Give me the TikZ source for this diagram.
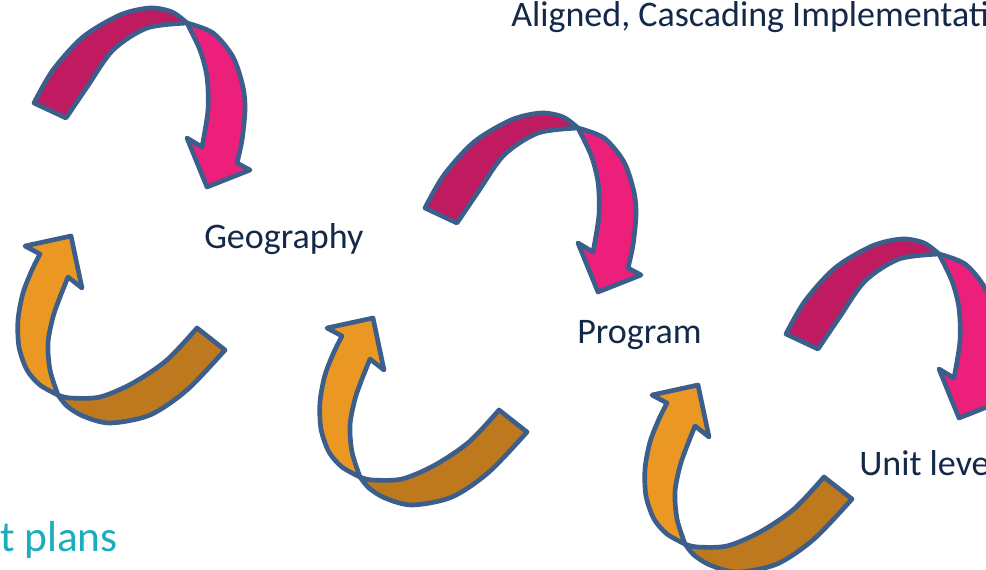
\documentclass[tikz,border=0pt]{standalone}
\usepackage{fontspec}
\setmainfont{Carlito}
\definecolor{pinkdark}{HTML}{C01A60}
\definecolor{pinklight}{HTML}{EC1F7B}
\definecolor{orangelight}{HTML}{EB9723}
\definecolor{orangedark}{HTML}{BE791E}
\definecolor{edgeblue}{HTML}{3C5E8B}
\definecolor{textnavy}{HTML}{14294A}
\definecolor{teal}{HTML}{1AADBE}
\tikzset{
  ribbon/.style={draw=edgeblue, line width=3.5pt, line join=round},
  label/.style={font=\fontsize{27}{32}\selectfont, text=textnavy, inner sep=0pt},
  pinkarrow/.pic={
    \filldraw[ribbon, fill=pinkdark]
      plot[smooth] coordinates {(34,103)(53,70)(83,37)(120,15)(150,8)(172,12)(187,23)}
      -- plot[smooth] coordinates {(187,23)(147,28)(113,50)(87,87)(66,118)}
      -- cycle;
    \filldraw[ribbon, fill=pinklight]
      plot[smooth] coordinates {(187,23)(213,33)(233,57)(243,87)(245,110)(242,140)(237,163)}
      -- (250,170) -- (207,187) -- (187,138) -- (202,147)
      -- plot[smooth] coordinates {(202,147)(208,110)(207,77)(200,50)(187,23)}
      -- cycle;
  },
  orangearrow/.pic={
    \filldraw[ribbon, fill=orangedark]
      plot[smooth] coordinates {(58,395)(67,406)(83,416)(110,423)(150,415)(187,390)(225,350)}
      -- (197,328)
      -- plot[smooth] coordinates {(197,328)(167,360)(133,383)(100,397)(70,398)(58,395)}
      -- cycle;
    \filldraw[ribbon, fill=orangelight]
      (71,236) -- (25,246) -- (40,254)
      -- plot[smooth] coordinates {(40,254)(32,270)(23,293)(18,320)(19,347)(27,370)(40,385)(58,395)}
      -- plot[smooth] coordinates {(58,395)(50,370)(48,343)(53,317)(60,297)(68,277)}
      -- (82,288) -- cycle;
  }
}
\begin{document}
\begin{tikzpicture}[x=0.75pt,y=-0.75pt]
\useasboundingbox (0,0) rectangle (986,569);
\clip (0,0) rectangle (986,569);
\fill[white] (0,0) rectangle (986,569);
\pic at (0,0) {pinkarrow};
\pic at (391,105) {pinkarrow};
\pic at (752,231) {pinkarrow};
\pic at (0,0) {orangearrow};
\pic at (302,82) {orangearrow};
\pic at (627,149) {orangearrow};
\node[label, anchor=base west] (title) at (511,26) {Aligned, Cascading Implementati};
\node[label, anchor=base west] (geo) at (204,248) {Geography};
\node[label, anchor=base west] (prog) at (577,343) {Program};
\node[label, anchor=base west] (unit) at (859,475) {Unit leve};
\node[label, anchor=base east, text=teal, font=\fontsize{32.5}{38}\selectfont] (plans) at (118,551) {t plans};
\end{tikzpicture}
\end{document}
